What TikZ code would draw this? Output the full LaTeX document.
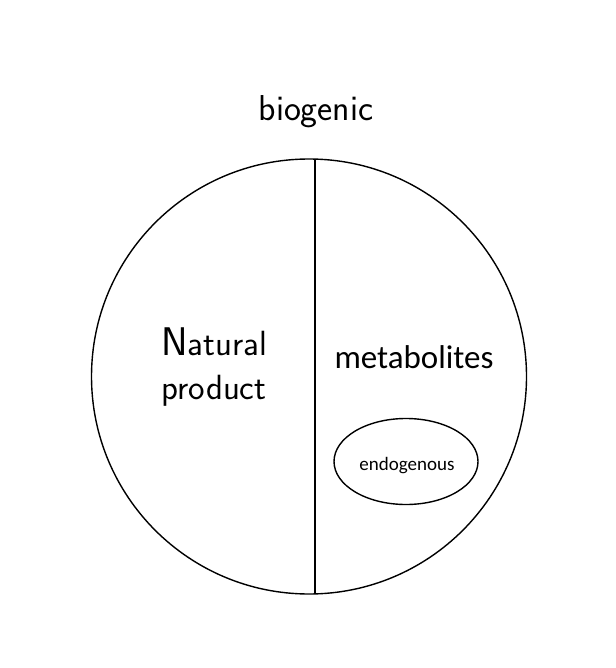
\documentclass[tikz,border=0pt]{standalone}
\usepackage{fontspec}
\setsansfont{Latin Modern Sans}
\newfontfamily\carl{Carlito}
\usetikzlibrary{shapes.geometric}
\begin{document}
\begin{tikzpicture}[x=1pt,y=-1pt,
  lbl/.style={inner sep=0pt,font=\sffamily},
  outl/.style={draw=black,line width=1.4pt}]
\useasboundingbox (0,0) rectangle (615,668);
\node[outl,circle,minimum size=435pt,inner sep=0pt] (c) at (309,376.5) {};
\coordinate (top) at (315,159.2);
\coordinate (bot) at (315,593.8);
\draw[line width=1.4pt] (top) -- (bot);
\node[outl,ellipse,minimum width=144pt,minimum height=86pt,inner sep=0pt] (e) at (406,461.5) {};
\node[lbl,font=\sffamily\fontsize{36}{40}\selectfont,anchor=base] (bio) at (316,121) {biogenic};
\node[lbl,anchor=base,font=\sffamily\fontsize{35}{44}\selectfont] (nat) at (214,355) {{\fontsize{40}{44}\selectfont N}atural};
\node[lbl,anchor=base,font=\sffamily\fontsize{35}{44}\selectfont] (prod) at (214,399) {product};
\node[lbl,anchor=base,font=\carl\fontsize{33}{38}\selectfont] (met) at (414,368) {metabolites};
\node[lbl,anchor=base,font=\carl\fontsize{19}{24}\selectfont] (endo) at (407,470) {endogenous};
\end{tikzpicture}
\end{document}
